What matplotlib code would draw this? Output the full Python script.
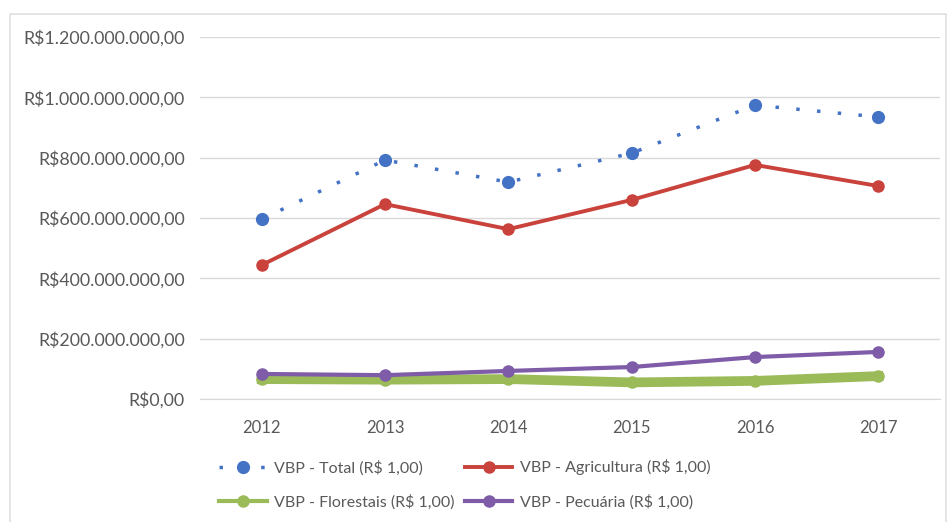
import matplotlib.pyplot as plt
from matplotlib.ticker import FuncFormatter
from matplotlib.patches import Rectangle

plt.rcParams['font.family'] = ['Lato', 'DejaVu Sans']

anos = ['2012', '2013', '2014', '2015', '2016', '2017']
vbp_total = [596e6, 792e6, 719e6, 815e6, 974e6, 935e6]
vbp_agricultura = [444e6, 646e6, 563e6, 660e6, 776e6, 706e6]
vbp_florestais = [66e6, 64e6, 66e6, 55e6, 60e6, 76e6]
vbp_pecuaria = [83e6, 79e6, 93e6, 106e6, 139e6, 156e6]


def reais(v, pos):
    s = '{:,.2f}'.format(v).replace(',', 'X').replace('.', ',').replace('X', '.')
    return 'R$' + s


fig = plt.figure(figsize=(9.48, 5.22), dpi=100)
ax = fig.add_axes([200 / 948, 1 - 399 / 522, 740 / 948, 362 / 522])

x = range(len(anos))
l_tot, = ax.plot(x, vbp_total, color='#4472C4', lw=2.5, linestyle=(0, (1, 5)),
                 dash_capstyle='butt', marker='o', ms=8.5,
                 label='VBP - Total (R$ 1,00)', zorder=3)
l_agr, = ax.plot(x, vbp_agricultura, color='#C9423C', lw=2.8, marker='o', ms=8,
                 label='VBP - Agricultura (R$ 1,00)', zorder=3)
l_flo, = ax.plot(x, vbp_florestais, color='#9BBB59', lw=7, marker='o', ms=8,
                 label='VBP - Florestais (R$ 1,00)', zorder=2)
l_pec, = ax.plot(x, vbp_pecuaria, color='#7E5CA8', lw=3, marker='o', ms=8,
                 label='VBP - Pecuária (R$ 1,00)', zorder=3)

ax.set_xlim(-0.5, len(anos) - 0.5)
ax.set_ylim(0, 1.2e9)
ax.set_yticks([i * 200e6 for i in range(7)])
ax.yaxis.set_major_formatter(FuncFormatter(reais))
ax.set_xticks(list(x))
ax.set_xticklabels(anos)
ax.tick_params(length=0, labelsize=12, labelcolor='#595959')
ax.tick_params(axis='y', pad=10.8, labelsize=12.8)
ax.tick_params(axis='x', pad=15)
ax.grid(axis='y', color='#D9D9D9', lw=1)
ax.set_axisbelow(True)
for s in ['top', 'right', 'left']:
    ax.spines[s].set_visible(False)
ax.spines['bottom'].set_color('#D9D9D9')

handles = [l_tot, l_flo, l_agr, l_pec]
leg = fig.legend(handles=handles, labels=[h.get_label() for h in handles],
                 loc='upper left', bbox_to_anchor=(205 / 948, 1 - 445 / 522), ncol=2,
                 frameon=False, fontsize=11.5, labelcolor='#595959', handlelength=3.0,
                 columnspacing=0.6, handletextpad=0.45, labelspacing=1.2)
for h in leg.legend_handles:
    if h.get_linewidth() > 5:
        h.set_linewidth(3)

fig.patches.append(Rectangle((10 / 948, -0.01), 936 / 948, 1 - 14 / 522 + 0.01,
                             transform=fig.transFigure, fill=False,
                             edgecolor='#E0E0E0', lw=1.2))

fig.savefig('out.png', dpi=100)
